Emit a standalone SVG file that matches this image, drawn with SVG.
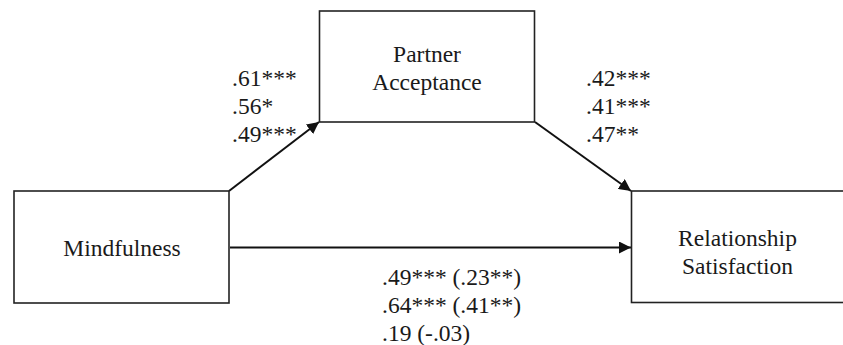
<svg xmlns="http://www.w3.org/2000/svg" width="843" height="345" viewBox="0 0 843 345">
<style>
.box{fill:#fff;stroke:#222;stroke-width:1.6}
.t{font-family:"Liberation Serif","Times New Roman",serif;font-size:23.5px;fill:#1a1a1a}
.c{text-anchor:middle}
.e{stroke:#111;stroke-width:2;fill:none}
</style>
<defs>
<marker id="ah" viewBox="0 0 12 12" refX="12" refY="6" markerWidth="12" markerHeight="12" markerUnits="userSpaceOnUse" orient="auto">
<path d="M0,0 L12,6 L0,12 Z" fill="#111"/>
</marker>
</defs>
<rect width="843" height="345" fill="#fff"/>
<g id="connectors">
<line class="e" x1="229" y1="191" x2="319" y2="122" marker-end="url(#ah)"/>
<line class="e" x1="535" y1="122" x2="631" y2="191" marker-end="url(#ah)"/>
<line class="e" x1="230" y1="247.5" x2="631" y2="247.5" marker-end="url(#ah)"/>
</g>
<g id="node-partner">
<rect class="box" x="319.5" y="11" width="215" height="111"/>
<text class="t c" x="427" y="62">Partner</text>
<text class="t c" x="427" y="90">Acceptance</text>
</g>
<g id="node-mindfulness">
<rect class="box" x="14" y="191" width="215" height="112"/>
<text class="t c" x="122" y="256">Mindfulness</text>
</g>
<g id="node-satisfaction">
<rect class="box" x="631.5" y="191" width="230" height="111.5"/>
<text class="t c" x="737.5" y="246">Relationship</text>
<text class="t c" x="737.5" y="274">Satisfaction</text>
</g>
<g id="labels">
<text class="t" x="232" y="86">.61***</text>
<text class="t" x="232" y="114">.56*</text>
<text class="t" x="232" y="142">.49***</text>
<text class="t" x="586" y="86">.42***</text>
<text class="t" x="586" y="114">.41***</text>
<text class="t" x="586" y="142">.47**</text>
<text class="t" x="382" y="285">.49*** (.23**)</text>
<text class="t" x="382" y="313">.64*** (.41**)</text>
<text class="t" x="382" y="341">.19 (-.03)</text>
</g>
</svg>
